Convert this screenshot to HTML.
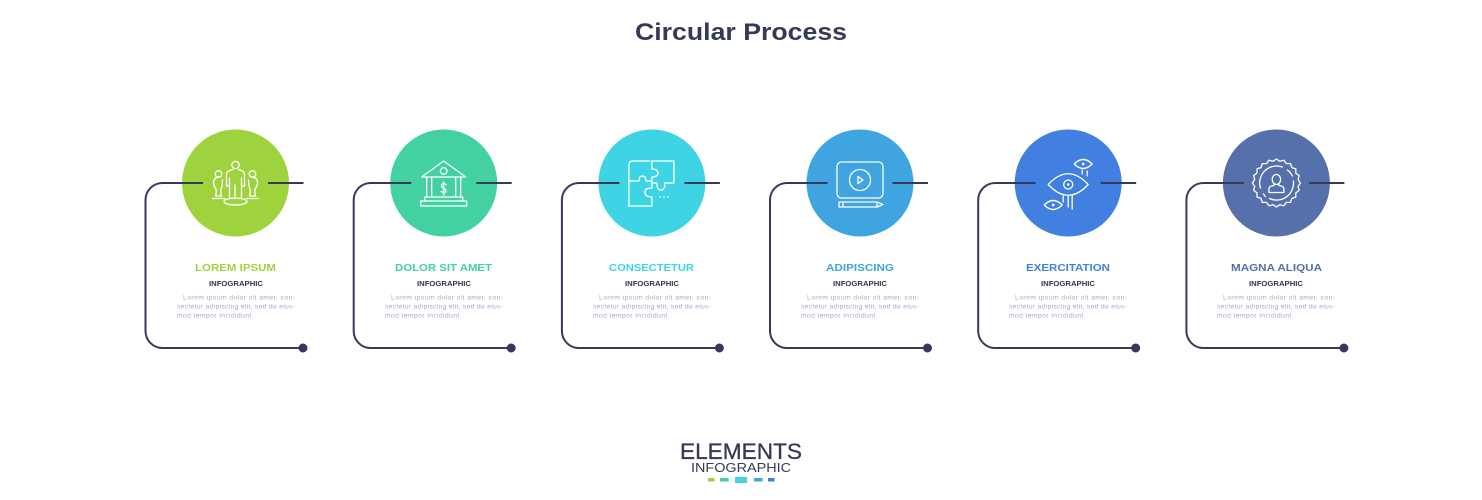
<!DOCTYPE html>
<html><head><meta charset="utf-8"><title>Circular Process</title>
<style>
html,body{margin:0;padding:0;background:#fff}
svg{display:block}
text{font-family:"Liberation Sans",sans-serif}
.t{font-size:10.5px;font-weight:700;text-anchor:start}
.i{font-size:7.3px;font-weight:700;fill:#33374f}
.b{font-size:6.8px;fill:#a3a8c8}
.l{fill:none;stroke:#36395a;stroke-width:2}
.ic{fill:none;stroke:#fff;stroke-width:1.3;stroke-linejoin:round;stroke-linecap:round}
</style></head><body>
<svg width="1482" height="500" viewBox="0 0 1482 500" xmlns="http://www.w3.org/2000/svg">
<rect width="1482" height="500" fill="#fff"/>
<defs>
<g id="conn">
<path class="l" d="M-32.5 0H-73a17 17 0 0 0-17 17V148a17 17 0 0 0 17 17H67"/>
<path class="l" d="M32.5 0H68"/>
<circle cx="67.500" cy="165" r="4.500" fill="#36395a"/>
</g>
</defs>
<text x="741" y="40" text-anchor="middle" textLength="212" lengthAdjust="spacingAndGlyphs" font-size="24.500" font-weight="700" fill="#363a59">Circular Process</text>

<!-- 1 -->
<g transform="translate(235.500,183)">
<circle r="53.500" fill="#9fd33e"/><use href="#conn"/>
<g class="ic">
<circle cy="-18" r="3.600"/>
<path d="M-3-13.500L-7-12Q-9-11-9-8V3H-6V-5M-6 3V16M6-5V3H9V-8Q9-11 7-12L3-13.500M6 3V16M-.5 2V16"/>
<ellipse cy="18.500" rx="11.500" ry="3.500"/>
<circle cx="-17" cy="-9" r="3.300"/>
<path d="M-14.500-6.500Q-21.500-6-22-1Q-22 3-19.500 6Q-19 10-20 13H-14Q-15 10-14.500 6Q-13.500 5-13-3"/>
<circle cx="17" cy="-9" r="3.300"/>
<path d="M14.500-6.500Q21.500-6 22-1Q22 3 19.500 6Q19 10 20 13H14Q15 10 14.500 6Q13.500 5 13-3"/>
<path d="M-23 15.500H-11M11 15.500H23"/>
</g>
</g>
<text class="t" x="195" y="271" textLength="81" lengthAdjust="spacingAndGlyphs" fill="#9fd33e">LOREM IPSUM</text>
<text class="i" x="209" y="286" textLength="54" lengthAdjust="spacingAndGlyphs">INFOGRAPHIC</text>
<text class="b" x="183" y="299.500" textLength="112">Lorem ipsum dolor sit amet, con-</text>
<text class="b" x="177" y="308.500" textLength="118">sectetur adipiscing elit, sed do eius-</text>
<text class="b" x="177" y="317.500" textLength="76.500">mod tempor incididunt.</text>

<!-- 2 -->
<g transform="translate(443.700,183)">
<circle r="53.500" fill="#43d1a0"/><use href="#conn"/>
<g class="ic">
<path d="M-22-6L0-22L22-6ZM-17-6V14H-12V-6M17-6V14H12V-6M-19 14H19V18H-19ZM-23 18H23V23H-23Z"/>
<circle cy="-12" r="3.300"/>
<path d="M2.500 1.500Q0-.500-2 1.500Q-3 4 0 5Q3 6.500 2 9Q0 10.500-2.500 8.500M0-1V12"/>
</g>
</g>
<text class="t" x="395" y="271" textLength="97" lengthAdjust="spacingAndGlyphs" fill="#43d1a0">DOLOR SIT AMET</text>
<text class="i" x="417" y="286" textLength="54" lengthAdjust="spacingAndGlyphs">INFOGRAPHIC</text>
<text class="b" x="391" y="299.500" textLength="112">Lorem ipsum dolor sit amet, con-</text>
<text class="b" x="385" y="308.500" textLength="118">sectetur adipiscing elit, sed do eius-</text>
<text class="b" x="385" y="317.500" textLength="76.500">mod tempor incididunt.</text>

<!-- 3 -->
<g transform="translate(651.900,183)">
<circle r="53.500" fill="#3fd4e4"/><use href="#conn"/>
<g class="ic">
<path d="M-2-22H-19Q-23-22-23-18V-2H-13Q-13-7-9.500-7Q-6-7-6-2H0V5"/>
<path d="M-23-2V23H0V14Q-7 14-7 9Q-7 5 0 5"/>
<path d="M0-22H22V0H13Q13 7 9 7Q5 7 5 0H0V-6Q6-6 6-10Q6-14 0-14Z"/>
<path d="M8 14H8.300M12 14H12.300M16 14H16.300"/>
</g>
</g>
<text class="t" x="609" y="271" textLength="85" lengthAdjust="spacingAndGlyphs" fill="#3fd4e4">CONSECTETUR</text>
<text class="i" x="625" y="286" textLength="54" lengthAdjust="spacingAndGlyphs">INFOGRAPHIC</text>
<text class="b" x="599" y="299.500" textLength="112">Lorem ipsum dolor sit amet, con-</text>
<text class="b" x="593" y="308.500" textLength="118">sectetur adipiscing elit, sed do eius-</text>
<text class="b" x="593" y="317.500" textLength="76.500">mod tempor incididunt.</text>

<!-- 4 -->
<g transform="translate(860,183)">
<circle r="53.500" fill="#3fa4e0"/><use href="#conn"/>
<g class="ic">
<rect x="-23" y="-21" width="46" height="36" rx="4.500"/>
<circle cy="-3" r="10.500"/>
<path d="M-2-6.500L3-3L-2 .5Z"/>
<path d="M-21 19H17L23 21.500L17 24H-21ZM-17 19V24M17 19V24"/>
</g>
</g>
<text class="t" x="826" y="271" textLength="68" lengthAdjust="spacingAndGlyphs" fill="#3fa4e0">ADIPISCING</text>
<text class="i" x="833" y="286" textLength="54" lengthAdjust="spacingAndGlyphs">INFOGRAPHIC</text>
<text class="b" x="807" y="299.500" textLength="112">Lorem ipsum dolor sit amet, con-</text>
<text class="b" x="801" y="308.500" textLength="118">sectetur adipiscing elit, sed do eius-</text>
<text class="b" x="801" y="317.500" textLength="76.500">mod tempor incididunt.</text>

<!-- 5 -->
<g transform="translate(1068.200,183)">
<circle r="53.500" fill="#4180e0"/><use href="#conn"/>
<g class="ic">
<path d="M-20 1.500Q0-20 20 1.500Q0 23-20 1.500Z"/>
<circle cy="1.500" r="4.500"/>
<circle cy="1.500" r=".6"/>
<path d="M-5 13V19M0 13V24M4 13V26"/>
<path d="M6-19Q15-28 24-19Q15-10 6-19Z"/>
<circle cx="15" cy="-19" r=".7"/>
<path d="M14-13V-9M19-12V-7"/>
<path d="M-24 22Q-15 13-6 22Q-15 31-24 22Z"/>
<circle cx="-15" cy="22" r=".7"/>
</g>
</g>
<text class="t" x="1026" y="271" textLength="84" lengthAdjust="spacingAndGlyphs" fill="#4180e0">EXERCITATION</text>
<text class="i" x="1041" y="286" textLength="54" lengthAdjust="spacingAndGlyphs">INFOGRAPHIC</text>
<text class="b" x="1015" y="299.500" textLength="112">Lorem ipsum dolor sit amet, con-</text>
<text class="b" x="1009" y="308.500" textLength="118">sectetur adipiscing elit, sed do eius-</text>
<text class="b" x="1009" y="317.500" textLength="76.500">mod tempor incididunt.</text>

<!-- 6 -->
<g transform="translate(1276.400,183)">
<circle r="53.500" fill="#5570aa"/><use href="#conn"/>
<g class="ic">
<polygon points="24,0 21.700,3.400 22.800,7.400 19.400,9.900 19.400,14.100 15.400,15.400 14.100,19.400 9.900,19.400 7.400,22.800 3.400,21.700 0,24 -3.400,21.700 -7.400,22.800 -9.900,19.400 -14.100,19.400 -15.400,15.400 -19.400,14.100 -19.400,9.900 -22.800,7.400 -21.700,3.400 -24,0 -21.700,-3.400 -22.800,-7.400 -19.400,-9.900 -19.400,-14.100 -15.400,-15.400 -14.100,-19.400 -9.900,-19.400 -7.400,-22.800 -3.400,-21.700 0,-24 3.400,-21.700 7.400,-22.800 9.900,-19.400 14.100,-19.400 15.400,-15.400 19.400,-14.100 19.400,-9.900 22.800,-7.400 21.700,-3.400"/>
<path d="M-16 5A17 17 0 0 1 6-16M11-13A17 17 0 0 1 16 -7M17-2A17 17 0 0 1-7 15.500M-11 13.500L-13 11"/>
<ellipse cy="-3.500" rx="4.200" ry="5"/>
<path d="M-2.500 1L-2.500 2.500Q-7.500 3-7.500 6V9.500H7.500V6Q7.500 3 2.500 2.500L2.500 1"/>
</g>
</g>
<text class="t" x="1231" y="271" textLength="91" lengthAdjust="spacingAndGlyphs" fill="#5570aa">MAGNA ALIQUA</text>
<text class="i" x="1249" y="286" textLength="54" lengthAdjust="spacingAndGlyphs">INFOGRAPHIC</text>
<text class="b" x="1223" y="299.500" textLength="112">Lorem ipsum dolor sit amet, con-</text>
<text class="b" x="1217" y="308.500" textLength="118">sectetur adipiscing elit, sed do eius-</text>
<text class="b" x="1217" y="317.500" textLength="76.500">mod tempor incididunt.</text>

<!-- footer -->
<text x="680" y="459" textLength="122" lengthAdjust="spacingAndGlyphs" font-size="22" fill="#363a59" stroke="#363a59" stroke-width=".3">ELEMENTS</text>
<text x="691" y="472" textLength="100" lengthAdjust="spacingAndGlyphs" font-size="13" fill="#363a59">INFOGRAPHIC</text>
<rect x="708" y="478" width="6.500" height="3.500" fill="#9fd33e"/>
<rect x="720" y="478" width="8.500" height="3.500" fill="#43d1a0"/>
<rect x="735" y="477" width="12" height="6" fill="#3fd4e4"/>
<rect x="754" y="478" width="8.500" height="3.500" fill="#3fa4e0"/>
<rect x="768" y="478" width="6.500" height="3.500" fill="#4180e0"/>
</svg>
</body></html>
